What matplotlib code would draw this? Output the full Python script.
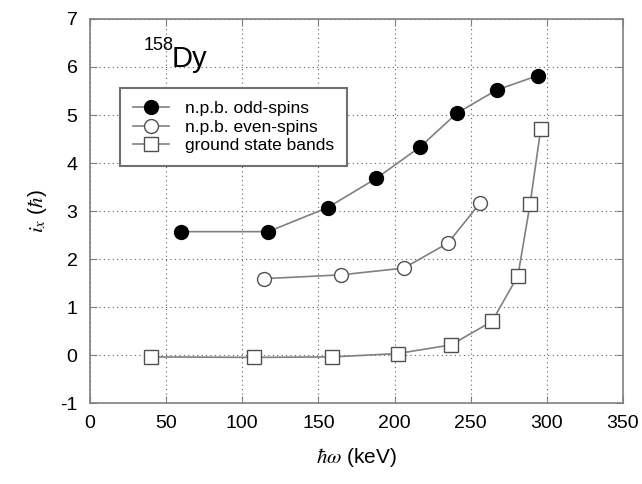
import numpy as np
import matplotlib
matplotlib.use("Agg")
import matplotlib.pyplot as plt

plt.rcParams['font.family'] = ['Liberation Sans', 'DejaVu Sans']
plt.rcParams['mathtext.fontset'] = 'stix'
plt.rcParams['axes.unicode_minus'] = False

# n.p.b. odd-spins
odd_x = [60, 117, 156, 188, 217, 241, 267, 294]
odd_y = [2.57, 2.57, 3.07, 3.68, 4.34, 5.04, 5.52, 5.82]
# n.p.b. even-spins
even_x = [114, 165, 206, 235, 256]
even_y = [1.59, 1.67, 1.81, 2.33, 3.16]
# ground state bands
gsb_x = [40, 108, 159, 202, 237, 264, 281, 289, 296]
gsb_y = [-0.04, -0.05, -0.04, 0.03, 0.21, 0.70, 1.65, 3.15, 4.71]

xticks = [0, 50, 100, 150, 200, 250, 300, 350]
yticks = [-1, 0, 1, 2, 3, 4, 5, 6, 7]

fig = plt.figure(figsize=(6.42, 4.84), dpi=100)
ax = fig.add_axes([90/642, 81/484, 533/642, 384/484])

line_c = '#808080'
ax.plot(odd_x, odd_y, '-', color=line_c, lw=1.2, marker='o', ms=10,
        mfc='black', mec='black', label='n.p.b. odd-spins', zorder=3)
ax.plot(even_x, even_y, '-', color=line_c, lw=1.2, marker='o', ms=10,
        mfc='white', mec='#505050', mew=1.0, label='n.p.b. even-spins', zorder=3)
ax.plot(gsb_x, gsb_y, '-', color=line_c, lw=1.2, marker='s', ms=10,
        mfc='white', mec='#505050', mew=1.0, label='ground state bands', zorder=3)

ax.set_xlim(0, 350)
ax.set_ylim(-1, 7)
ax.set_xticks(xticks)
ax.set_yticks(yticks)
ax.tick_params(direction='in', top=True, right=True, length=5, width=0.8,
               colors='#808080', labelcolor='black', labelsize=14, pad=9)
ax.grid(True, ls=(0, (1, 3)), color='#606060', lw=0.8)
for s in ax.spines.values():
    s.set_color('#808080')
    s.set_linewidth(1.2)

ax.set_xlabel(r'$\hbar\omega$ (keV)', fontsize=15, labelpad=10)
ax.set_ylabel(r'$i_x$ ($\hbar$)', fontsize=15, labelpad=8)

# nucleus label
ax.text(35, 6.35, '158', fontsize=13, va='baseline')
ax.text(53.5, 6.0, 'Dy', fontsize=21, va='baseline')

leg = ax.legend(loc='upper left', bbox_to_anchor=(30/533, (403-88)/384), fontsize=12.5,
                frameon=True, fancybox=False, handlelength=2.1, handletextpad=0.9,
                labelspacing=0.2, borderpad=0.75, borderaxespad=0, markerscale=1.0)
leg.get_frame().set_edgecolor('#707070')
leg.get_frame().set_linewidth(1.5)
leg.get_frame().set_alpha(1)

fig.savefig('out.png', dpi=100)
